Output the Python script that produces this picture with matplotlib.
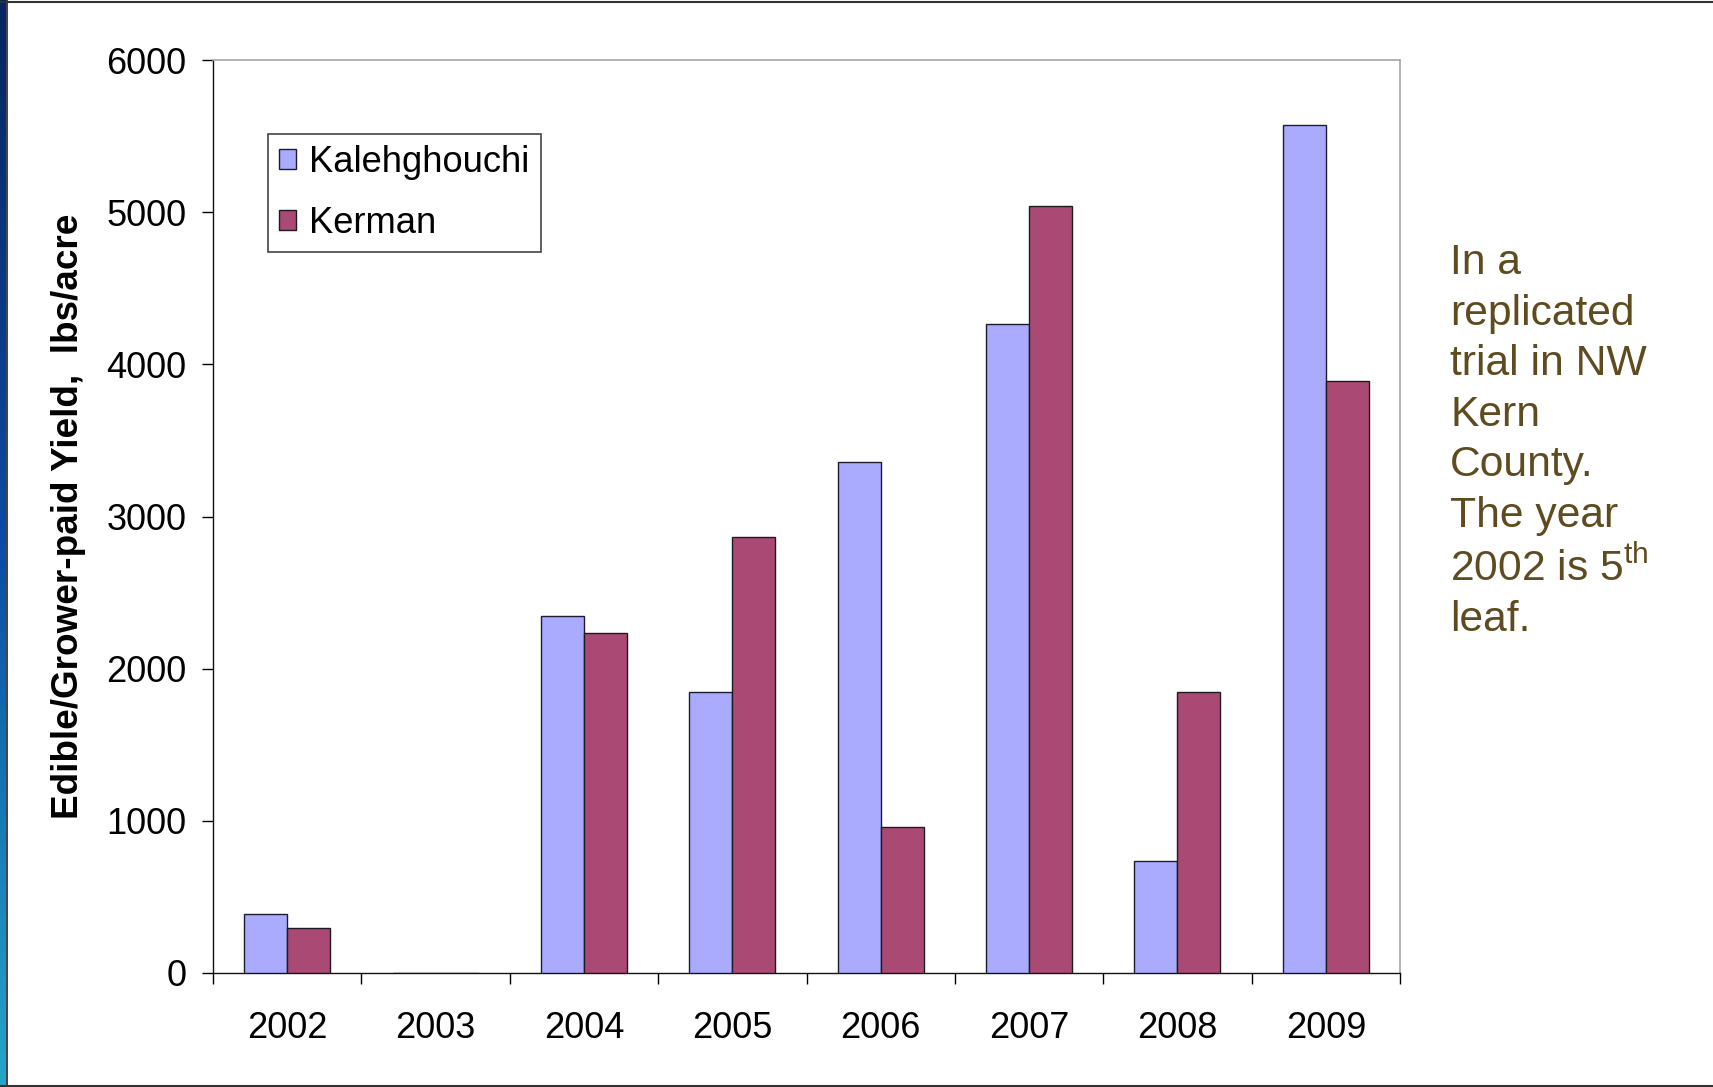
import numpy as np
import matplotlib.pyplot as plt
from matplotlib.lines import Line2D
from matplotlib.colors import LinearSegmentedColormap

plt.rcParams['font.family'] = ['Liberation Sans', 'DejaVu Sans']
plt.rcParams['mathtext.fontset'] = 'custom'
plt.rcParams['mathtext.rm'] = 'Liberation Sans'

years = ['2002', '2003', '2004', '2005', '2006', '2007', '2008', '2009']
kalehghouchi = [388, 0, 2345, 1845, 3358, 4263, 738, 5575]
kerman = [296, 0, 2232, 2862, 961, 5040, 1847, 3892]

W, H = 1713, 1087
fig = plt.figure(figsize=(W / 100, H / 100), dpi=100)

# slide frame: blue strip on the left, thin lines top and bottom
strip = fig.add_axes([0, 0, 5.5 / W, 1])
cmap = LinearSegmentedColormap.from_list('strip', ['#062561', '#0B4DA2', '#27A5C9'])
strip.imshow(np.linspace(0, 1, 256).reshape(-1, 1), aspect='auto', cmap=cmap)
strip.axis('off')
fig.add_artist(Line2D([6.5 / W, 6.5 / W], [0, 1], color='#222222', lw=1.2))
fig.add_artist(Line2D([0, 1], [1 - 2 / H, 1 - 2 / H], color='#333333', lw=1.5))
fig.add_artist(Line2D([0, 1], [1.5 / H, 1.5 / H], color='#333333', lw=1.5))

ax = fig.add_axes([213 / W, 1 - 973 / H, (1400 - 213) / W, (973 - 60) / H])
x = np.arange(len(years)) + 0.5
bw = 0.29
ax.bar(x - bw / 2, kalehghouchi, bw, color='#AAAAFF', edgecolor='#1c1c30',
       linewidth=1.0, label='Kalehghouchi', zorder=3)
ax.bar(x + bw / 2, kerman, bw, color='#AA4A74', edgecolor='#1c1c20',
       linewidth=1.0, label='Kerman', zorder=3)

ax.set_xlim(0, len(years))
ax.set_ylim(0, 6000)
ax.set_yticks(range(0, 7000, 1000))
ax.set_xticks(x)
ax.set_xticklabels(years)
ax.set_xticks(np.arange(len(years) + 1), minor=True)
ax.tick_params(axis='x', which='major', length=0, pad=27, labelsize=26)
ax.tick_params(axis='x', which='minor', length=8, width=1.0, direction='out')
ax.tick_params(axis='y', length=8, width=1.0, pad=11, labelsize=26)
for s in ['top', 'right']:
    ax.spines[s].set_color('#A6A6A6')
    ax.spines[s].set_linewidth(1.2)
for s in ['left', 'bottom']:
    ax.spines[s].set_color('#111111')
    ax.spines[s].set_linewidth(1.0)

fig.text(69 / W, 1 - 516 / H, 'Edible/Grower-paid Yield,  lbs/acre', rotation=90,
         ha='center', va='center', fontsize=26.6, fontweight='bold')

leg = ax.legend(loc='upper left', bbox_to_anchor=(268 / W, 1 - 134 / H),
                bbox_transform=fig.transFigure, borderaxespad=0, fancybox=False,
                edgecolor='#444444', framealpha=1, fontsize=26.2,
                handlelength=0.48, handleheight=0.48, handletextpad=0.36,
                labelspacing=0.72, borderpad=0.3)
leg.get_frame().set_linewidth(1.2)

fig.text(1450 / W, 1 - 243 / H,
         'In a\nreplicated\ntrial in NW\nKern\nCounty.\nThe year\n2002 is 5$^{\\mathrm{th}}$\nleaf.',
         ha='left', va='top', fontsize=30.7, color='#5E4B1F', linespacing=1.34)

fig.savefig('out.png', dpi=100)
